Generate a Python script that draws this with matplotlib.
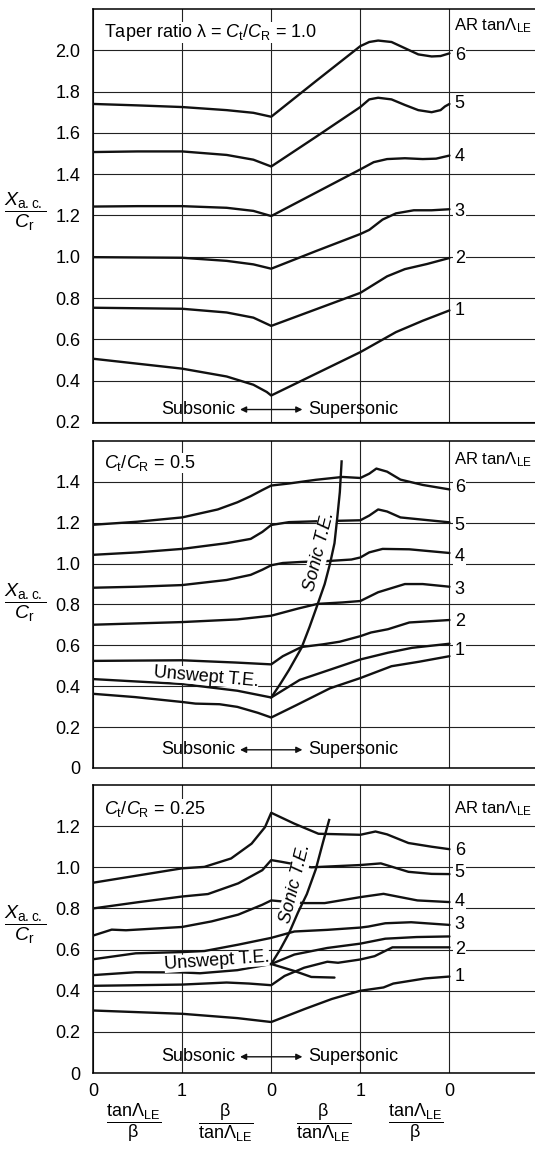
import matplotlib
matplotlib.use('Agg')
import matplotlib.pyplot as plt
import numpy as np

plt.rcParams['font.family'] = ['Liberation Sans', 'DejaVu Sans']
plt.rcParams['mathtext.fontset'] = 'custom'
plt.rcParams['mathtext.rm'] = 'Liberation Sans'
plt.rcParams['mathtext.it'] = 'Liberation Sans:italic'
plt.rcParams['mathtext.bf'] = 'Liberation Sans:bold'
plt.rcParams['font.size'] = 13

# ---- data ----
ar_labels = ['6', '5', '4', '3', '2', '1']

# panel 1: taper ratio 1.0
t10_ar6_x = [0, 0.5, 1, 1.5, 1.8, 2, 2.5, 3, 3.1, 3.2, 3.35, 3.5, 3.65, 3.8, 3.9, 4]
t10_ar6_y = [1.74, 1.733, 1.725, 1.71, 1.697, 1.678, 1.85, 2.02, 2.04, 2.047, 2.04, 2.01, 1.98, 1.97, 1.972, 1.985]
t10_ar5_x = [0, 0.5, 1, 1.5, 1.8, 2, 2.5, 3, 3.1, 3.2, 3.35, 3.5, 3.65, 3.8, 3.9, 3.95, 4]
t10_ar5_y = [1.507, 1.51, 1.51, 1.493, 1.47, 1.437, 1.58, 1.725, 1.762, 1.77, 1.762, 1.735, 1.71, 1.70, 1.71, 1.728, 1.74]
t10_ar4_x = [0, 0.5, 1, 1.5, 1.8, 2, 2.5, 3, 3.15, 3.3, 3.5, 3.7, 3.85, 4]
t10_ar4_y = [1.243, 1.245, 1.245, 1.237, 1.222, 1.197, 1.31, 1.423, 1.458, 1.473, 1.477, 1.473, 1.475, 1.49]
t10_ar3_x = [0, 1, 1.5, 1.8, 2, 2.5, 3, 3.1, 3.25, 3.4, 3.6, 3.8, 4]
t10_ar3_y = [0.998, 0.995, 0.98, 0.963, 0.942, 1.027, 1.11, 1.13, 1.18, 1.21, 1.225, 1.225, 1.23]
t10_ar2_x = [0, 1, 1.5, 1.8, 2, 2.5, 3, 3.15, 3.3, 3.5, 3.75, 4]
t10_ar2_y = [0.753, 0.748, 0.73, 0.705, 0.665, 0.745, 0.825, 0.865, 0.905, 0.94, 0.965, 0.994]
t10_ar1_x = [0, 0.5, 1, 1.5, 1.8, 1.95, 2, 2.5, 3, 3.4, 3.7, 4]
t10_ar1_y = [0.506, 0.482, 0.458, 0.42, 0.38, 0.345, 0.328, 0.433, 0.538, 0.635, 0.69, 0.74]
t10_label_y = [1.976, 1.74, 1.486, 1.22, 0.993, 0.74]

# panel 2: Ct/CR = 0.5
t05_ar6_x = [0, 0.5, 1, 1.4, 1.62, 1.77, 1.9, 2, 2.2, 2.5, 2.8, 3, 3.1, 3.18, 3.3, 3.45, 3.7, 4]
t05_ar6_y = [1.19, 1.205, 1.226, 1.265, 1.30, 1.33, 1.36, 1.382, 1.392, 1.41, 1.424, 1.419, 1.44, 1.465, 1.45, 1.411, 1.385, 1.363]
t05_ar5_x = [0, 0.5, 1, 1.5, 1.77, 1.9, 2, 2.2, 2.5, 3, 3.1, 3.2, 3.3, 3.45, 3.7, 4]
t05_ar5_y = [1.043, 1.055, 1.072, 1.10, 1.121, 1.155, 1.189, 1.203, 1.207, 1.212, 1.235, 1.265, 1.255, 1.226, 1.215, 1.202]
t05_ar4_x = [0, 0.5, 1, 1.5, 1.77, 1.9, 2, 2.13, 2.33, 2.65, 2.9, 3, 3.1, 3.25, 3.55, 4]
t05_ar4_y = [0.882, 0.887, 0.895, 0.92, 0.945, 0.97, 0.992, 1.003, 1.008, 1.013, 1.02, 1.03, 1.055, 1.072, 1.07, 1.052]
t05_ar3_x = [0, 1, 1.62, 2, 2.3, 2.52, 2.8, 3, 3.2, 3.5, 3.7, 4]
t05_ar3_y = [0.701, 0.714, 0.727, 0.745, 0.78, 0.803, 0.81, 0.817, 0.86, 0.9, 0.9, 0.887]
t05_ar2_x = [0, 1, 1.6, 2, 2.13, 2.34, 2.58, 2.77, 3, 3.12, 3.31, 3.55, 4]
t05_ar2_y = [0.524, 0.527, 0.516, 0.507, 0.547, 0.592, 0.605, 0.618, 0.645, 0.663, 0.679, 0.712, 0.724]
t05_unswept_x = [0, 1, 1.62, 2, 2.32, 2.66, 3, 3.31, 3.58, 4]
t05_unswept_y = [0.435, 0.411, 0.378, 0.345, 0.431, 0.481, 0.531, 0.564, 0.588, 0.608]
t05_ar1_x = [0, 0.47, 1, 1.15, 1.42, 1.62, 1.85, 2, 2.28, 2.66, 3, 3.35, 3.66, 4]
t05_ar1_y = [0.363, 0.347, 0.323, 0.315, 0.312, 0.299, 0.27, 0.247, 0.307, 0.39, 0.44, 0.498, 0.52, 0.547]
t05_sonic_x = [2, 2.1, 2.2, 2.34, 2.43, 2.52, 2.6, 2.66, 2.71, 2.74, 2.77, 2.79]
t05_sonic_y = [0.345, 0.41, 0.48, 0.588, 0.69, 0.80, 0.9, 1.0, 1.1, 1.22, 1.35, 1.5]
t05_label_y = [1.372, 1.185, 1.035, 0.871, 0.718, 0.575]

# panel 3: Ct/CR = 0.25
t025_ar6_x = [0, 0.5, 1, 1.25, 1.55, 1.78, 1.93, 2, 2.26, 2.53, 3, 3.17, 3.3, 3.54, 3.8, 4]
t025_ar6_y = [0.925, 0.96, 0.995, 1.002, 1.043, 1.115, 1.195, 1.265, 1.212, 1.163, 1.158, 1.174, 1.16, 1.118, 1.1, 1.088]
t025_ar5_x = [0, 0.5, 1, 1.29, 1.63, 1.9, 2, 2.11, 2.45, 3, 3.23, 3.54, 3.8, 4]
t025_ar5_y = [0.80, 0.83, 0.858, 0.87, 0.922, 0.986, 1.035, 1.027, 1.0, 1.011, 1.019, 0.978, 0.968, 0.967]
t025_ar4_x = [0, 0.21, 0.37, 1, 1.33, 1.63, 1.9, 2, 2.1, 2.38, 2.6, 3, 3.26, 3.64, 4]
t025_ar4_y = [0.668, 0.697, 0.694, 0.71, 0.737, 0.77, 0.818, 0.839, 0.835, 0.826, 0.826, 0.855, 0.871, 0.839, 0.831]
t025_ar3_x = [0, 0.48, 1, 1.25, 1.63, 2, 2.26, 2.63, 3, 3.09, 3.28, 3.57, 4]
t025_ar3_y = [0.553, 0.582, 0.588, 0.593, 0.624, 0.657, 0.688, 0.696, 0.707, 0.712, 0.728, 0.733, 0.72]
t025_unswept_x = [0, 0.48, 1, 1.2, 1.62, 2, 2.26, 2.63, 3, 3.28, 3.63, 4]
t025_unswept_y = [0.476, 0.49, 0.489, 0.485, 0.50, 0.53, 0.576, 0.608, 0.629, 0.653, 0.661, 0.664]
t025_cross_x = [2, 2.26, 2.45, 2.71]
t025_cross_y = [0.53, 0.496, 0.467, 0.464]
t025_ar2_x = [0, 1, 1.5, 1.75, 2, 2.15, 2.37, 2.63, 2.75, 3, 3.16, 3.36, 4]
t025_ar2_y = [0.424, 0.43, 0.44, 0.435, 0.427, 0.472, 0.512, 0.541, 0.536, 0.552, 0.568, 0.611, 0.611]
t025_ar1_x = [0, 1, 1.62, 2, 2.38, 2.68, 3, 3.26, 3.37, 3.73, 4]
t025_ar1_y = [0.304, 0.288, 0.267, 0.248, 0.312, 0.36, 0.40, 0.416, 0.435, 0.46, 0.469]
t025_sonic_x = [2, 2.1, 2.2, 2.3, 2.4, 2.5, 2.58, 2.65]
t025_sonic_y = [0.53, 0.6, 0.68, 0.78, 0.87, 0.99, 1.12, 1.23]
t025_label_y = [1.083, 0.974, 0.834, 0.72, 0.6, 0.467]

x_ticklabels = ['0', '1', '0', '1', '0']

# ---- figure ----
fig = plt.figure(figsize=(5.35, 11.49), dpi=100)
ax1 = fig.add_axes([0.1738, 0.6319, 0.8262, 0.3603])
ax2 = fig.add_axes([0.1738, 0.3316, 0.8262, 0.2846])
ax3 = fig.add_axes([0.1738, 0.0661, 0.8262, 0.2507])

LINE = dict(color='#111111', lw=1.7, solid_joinstyle='round', solid_capstyle='round', zorder=3)
WHITE = dict(facecolor='white', edgecolor='none', pad=1)
ylabel = r'$\dfrac{X_{\mathrm{a.c.}}}{C_{\mathrm{r}}}$'
ar_head = r'AR tan$\mathrm{Λ}_{\mathrm{LE}}$'


def setup(ax, ylim, yticks, title, title_y, head_y, lab_y, sub_y, ylab_y):
    ax.set_xlim(0, 4.96)
    ax.set_ylim(*ylim)
    ax.set_xticks([0, 1, 2, 3, 4])
    ax.set_yticks(yticks)
    ax.set_yticklabels(['0' if v == 0 else '%.1f' % v for v in yticks])
    ax.tick_params(length=0, pad=9, labelsize=13)
    ax.tick_params(axis='x', labelbottom=False)
    ax.spines['right'].set_visible(False)
    for s in ['left', 'top', 'bottom']:
        ax.spines[s].set_linewidth(1.1)
    ax.grid(True, color='#222222', lw=0.8, zorder=1)
    ax.set_axisbelow(True)
    ax.text(0.125, title_y, title, ha='left', va='center', fontsize=13, bbox=dict(facecolor='white', edgecolor='none', pad=0), zorder=4)
    ax.text(4.05, head_y, ar_head, ha='left', va='center', fontsize=12)
    for lab, yv in zip(ar_labels, lab_y):
        ax.text(4.06, yv, lab, ha='left', va='center', fontsize=13, bbox=WHITE, zorder=5)
    ax.text(1.60, sub_y, 'Subsonic', ha='right', va='center', fontsize=13)
    ax.text(2.41, sub_y, 'Supersonic', ha='left', va='center', fontsize=13)
    ax.annotate('', xy=(1.65, sub_y), xytext=(2.35, sub_y),
                arrowprops=dict(arrowstyle='<|-|>', lw=1.0, color='#111111', mutation_scale=9, shrinkA=0, shrinkB=0))
    ax.text(-0.154, ylab_y, ylabel, transform=ax.get_yaxis_transform(), ha='center', va='center', fontsize=14)


setup(ax1, (0.195, 2.2), [0.2, 0.4, 0.6, 0.8, 1.0, 1.2, 1.4, 1.6, 1.8, 2.0],
      r'Taper ratio λ = $C_{\mathrm{t}}/C_{\mathrm{R}}$ = 1.0', 2.087, 2.12, t10_label_y, 0.26, 1.217)
setup(ax2, (0, 1.6), [0, 0.2, 0.4, 0.6, 0.8, 1.0, 1.2, 1.4],
      r'$C_{\mathrm{t}}/C_{\mathrm{R}}$ = 0.5', 1.49, 1.508, t05_label_y, 0.089, 0.806)
setup(ax3, (0, 1.4), [0, 0.2, 0.4, 0.6, 0.8, 1.0, 1.2],
      r'$C_{\mathrm{t}}/C_{\mathrm{R}}$ = 0.25', 1.284, 1.284, t025_label_y, 0.079, 0.721)

# panel 1 curves
for xs, ys in [(t10_ar6_x, t10_ar6_y), (t10_ar5_x, t10_ar5_y), (t10_ar4_x, t10_ar4_y),
               (t10_ar3_x, t10_ar3_y), (t10_ar2_x, t10_ar2_y), (t10_ar1_x, t10_ar1_y)]:
    ax1.plot(xs, ys, **LINE)

# panel 2 curves
for xs, ys in [(t05_ar6_x, t05_ar6_y), (t05_ar5_x, t05_ar5_y), (t05_ar4_x, t05_ar4_y),
               (t05_ar3_x, t05_ar3_y), (t05_ar2_x, t05_ar2_y), (t05_unswept_x, t05_unswept_y),
               (t05_ar1_x, t05_ar1_y)]:
    ax2.plot(xs, ys, **LINE)
ax2.plot(t05_sonic_x, t05_sonic_y, color='#111111', lw=1.7, zorder=6)
ax2.text(2.54, 1.06, 'Sonic T.E.', rotation=76, ha='center', va='center', fontsize=13,
         fontstyle='italic', bbox=dict(facecolor='white', edgecolor='none', pad=0.5), zorder=4)
ax2.text(1.27, 0.447, 'Unswept T.E.', rotation=-5, ha='center', va='center', fontsize=13,
         bbox=dict(facecolor='white', edgecolor='none', pad=0), zorder=4)

# panel 3 curves
for xs, ys in [(t025_ar6_x, t025_ar6_y), (t025_ar5_x, t025_ar5_y), (t025_ar4_x, t025_ar4_y),
               (t025_ar3_x, t025_ar3_y), (t025_unswept_x, t025_unswept_y), (t025_cross_x, t025_cross_y),
               (t025_ar2_x, t025_ar2_y), (t025_ar1_x, t025_ar1_y)]:
    ax3.plot(xs, ys, **LINE)
ax3.plot(t025_sonic_x, t025_sonic_y, color='#111111', lw=1.7, zorder=6)
ax3.text(2.27, 0.92, 'Sonic T.E.', rotation=76, ha='center', va='center', fontsize=13,
         fontstyle='italic', bbox=dict(facecolor='white', edgecolor='none', pad=0.5), zorder=4)
ax3.text(1.39, 0.545, 'Unswept T.E.', rotation=4, ha='center', va='center', fontsize=13,
         bbox=dict(facecolor='white', edgecolor='none', pad=0), zorder=4)

# bottom axis labels
ax3.tick_params(axis='x', labelbottom=True, pad=7)
ax3.set_xticklabels(x_ticklabels)
frac_x = [0.45, 1.49, 2.59, 3.62]
frac_txt = [r'$\dfrac{\mathrm{tan}\mathrm{Λ}_{\mathrm{LE}}}{\mathrm{β}}$',
            r'$\dfrac{\mathrm{β}}{\mathrm{tan}\mathrm{Λ}_{\mathrm{LE}}}$',
            r'$\dfrac{\mathrm{β}}{\mathrm{tan}\mathrm{Λ}_{\mathrm{LE}}}$',
            r'$\dfrac{\mathrm{tan}\mathrm{Λ}_{\mathrm{LE}}}{\mathrm{β}}$']
for fx, ft in zip(frac_x, frac_txt):
    ax3.text(fx, -0.174, ft, transform=ax3.get_xaxis_transform(), ha='center', va='center', fontsize=13)

fig.savefig('out.png', dpi=100)
